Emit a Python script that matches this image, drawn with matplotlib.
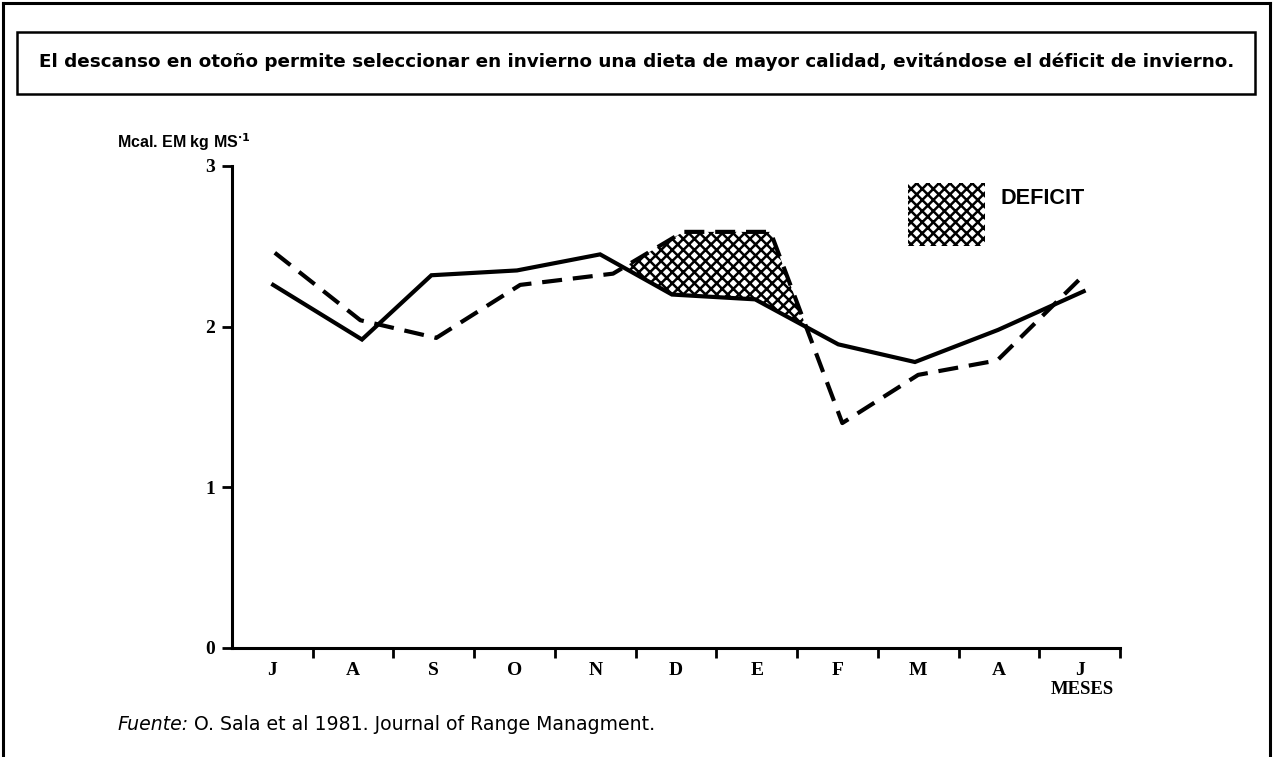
import numpy as np
import matplotlib
matplotlib.use("Agg")
import matplotlib.pyplot as plt
from matplotlib.patches import Rectangle
from matplotlib.lines import Line2D

# ---------------- data ----------------
months = ["J", "A", "S", "O", "N", "D", "E", "F", "M", "A", "J"]
# x positions of the hand-drawn vertices (month index, interval centre = i + 0.5)
x_solid = [0.51, 1.61, 2.47, 3.53, 4.56, 5.45, 6.48, 7.51, 8.46, 9.49, 10.55]
y_solid = [2.26, 1.92, 2.32, 2.35, 2.45, 2.20, 2.17, 1.89, 1.78, 1.98, 2.22]
x_dashed = [0.53, 1.59, 2.53, 3.57, 4.72, 5.59, 6.67, 7.56, 8.50, 9.48, 10.53]
y_dashed = [2.46, 2.04, 1.93, 2.26, 2.33, 2.59, 2.59, 1.40, 1.70, 1.79, 2.31]
yticks = [0, 1, 2, 3]
deficit_range = (4.6, 7.3)

title = "El descanso en otoño permite seleccionar en invierno una dieta de mayor calidad, evitándose el déficit de invierno."
ylabel = r"Mcal. EM kg MS$^{\cdot 1}$"
source_a = "Fuente:"
source_b = " O. Sala et al 1981. Journal of Range Managment."

plt.rcParams["hatch.linewidth"] = 1.8
plt.rcParams["mathtext.default"] = "bf"
SANS = ["Liberation Sans", "DejaVu Sans"]
WIDE = ["DejaVu Sans"]
SERIF = ["Liberation Serif", "DejaVu Serif"]

W, H = 1273, 757
fig = plt.figure(figsize=(W / 100, H / 100), dpi=100)
fig.patch.set_facecolor("white")


def fx(px):
    return px / W


def fy(py):
    return 1 - py / H


def fit_width(txt, target_px):
    fig.canvas.draw()
    w = txt.get_window_extent().width
    txt.set_fontsize(txt.get_fontsize() * target_px / w)


# outer frame (open at the bottom)
for xs, ys in [([3, 3], [757, 3]), ([3, 1270], [3, 3]), ([1270, 1270], [3, 757])]:
    fig.add_artist(Line2D([fx(v) for v in xs], [fy(v) for v in ys], color="black", lw=2.2))

# title box
fig.add_artist(Rectangle((fx(17), fy(94)), fx(1255) - fx(17), fy(32) - fy(94),
                         fill=False, edgecolor="black", lw=1.8, transform=fig.transFigure))
t_title = fig.text(fx(637), fy(62), title, ha="center", va="center", fontsize=13.5,
                   fontweight="bold", family=WIDE)
fit_width(t_title, 1200)

# axes
ax = fig.add_axes([fx(232), fy(648), fx(1120) - fx(232), fy(166) - fy(648)])
ax.set_xlim(0, 11)
ax.set_ylim(0, 3)
ax.spines["top"].set_visible(False)
ax.spines["right"].set_visible(False)
ax.spines["left"].set_linewidth(2.2)
ax.spines["bottom"].set_linewidth(2.2)

ax.set_yticks(yticks)
ax.set_yticklabels([str(v) for v in yticks], family=SERIF, fontweight="bold", fontsize=14)
ax.tick_params(axis="y", direction="out", length=7, width=2, pad=5)

ax.set_xticks(np.arange(1, 12))
ax.set_xticklabels([])
ax.tick_params(axis="x", which="major", direction="out", length=7, width=2)
ax.set_xticks(np.arange(len(months)) + 0.5, minor=True)
ax.set_xticklabels(months, minor=True, family=SERIF, fontweight="bold", fontsize=14)
ax.tick_params(axis="x", which="minor", length=0, pad=10)

# deficit hatch
grid = np.linspace(deficit_range[0], deficit_range[1], 600)
ys_i = np.interp(grid, x_solid, y_solid)
yd_i = np.interp(grid, x_dashed, y_dashed)
ax.fill_between(grid, ys_i, yd_i, where=yd_i > ys_i, interpolate=True,
                facecolor="white", edgecolor="black", hatch="xxx", linewidth=0, zorder=1)

ax.plot(x_solid, y_solid, color="black", lw=3.0, solid_joinstyle="miter", zorder=3)
ax.plot(x_dashed, y_dashed, color="black", lw=3.0, dashes=(4.8, 2.6), zorder=3)

# legend swatch
ax.add_patch(Rectangle((0.7615, 0.835), 0.087, 0.13, transform=ax.transAxes,
                       facecolor="white", edgecolor="black", hatch="xxx", linewidth=0))
t_def = fig.text(fx(1000), fy(199), "DEFICIT", ha="left", va="center", fontsize=14,
                 fontweight="bold", family=SANS)
fit_width(t_def, 84)

# labels
fig.text(fx(117), fy(142), ylabel, ha="left", va="center", fontsize=11.5,
         fontweight="bold", family=SANS)
fig.text(fx(1082), fy(690), "MESES", ha="center", va="center", fontsize=13.5,
         fontweight="bold", family=SERIF)

t_a = fig.text(fx(117), fy(724), source_a, ha="left", va="center", fontsize=12,
               style="italic", family=WIDE)
fig.canvas.draw()
t_b = fig.text(t_a.get_window_extent().x1 / W, fy(724), source_b, ha="left", va="center",
               fontsize=12, family=WIDE)
fig.canvas.draw()
total = t_b.get_window_extent().x1 - t_a.get_window_extent().x0
scale = 535 / total
t_a.set_fontsize(12 * scale)
t_b.set_fontsize(12 * scale)
fig.canvas.draw()
t_b.set_x(t_a.get_window_extent().x1 / W)

fig.savefig("out.png", dpi=100)
